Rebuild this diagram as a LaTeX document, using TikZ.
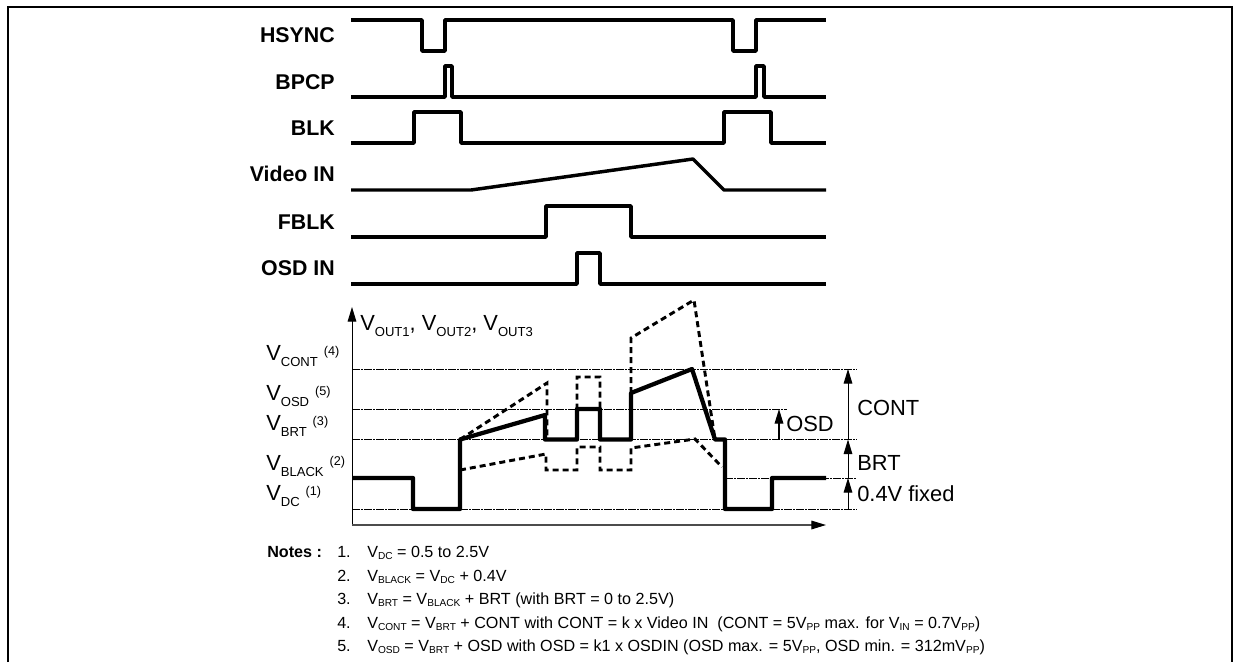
\documentclass[tikz,border=0pt]{standalone}
\usepackage{fontspec}
\setmainfont{Liberation Sans}
\usetikzlibrary{arrows.meta}
\newcommand{\vsub}[1]{V\raisebox{-4.5pt}{\fontsize{9.8}{12}\selectfont #1}}
\newcommand{\vnote}[1]{V\raisebox{-2pt}{\fontsize{7.6}{9}\selectfont #1}}
\newcommand{\refmark}[1]{\hspace{4.5pt}\raisebox{3.2pt}{\fontsize{9.5}{11}\selectfont (#1)}}
\begin{document}
\begin{tikzpicture}[x=0.75pt, y=-0.75pt, font=\fontsize{16.4}{18}\selectfont,
                sig label/.style={font=\fontsize{16}{18}\selectfont\bfseries, anchor=base east, inner sep=0pt},
                sig line/.style={line width=2.6pt, line join=round},
                out line/.style={line width=3.2pt, line join=round},
                var line/.style={line width=2.2pt, dash pattern=on 4.5pt off 3pt},
                level line/.style={line width=0.6pt, dash pattern=on 6pt off 1pt on 1pt off 1pt},
                dim arrow/.style={line width=0.7pt, -{Triangle[length=11pt, width=6.5pt, black]}},
                level label/.style={anchor=base west, inner sep=0pt},
                note/.style={font=\fontsize{12.1}{14}\selectfont, anchor=base west, inner sep=0pt}]

                \useasboundingbox (0,0) rectangle (1233,662);

                % Page frame, open at the bottom
                \draw[line width=1.5pt] (8,662) -- (8,7) -- (1232,7) -- (1232,662);

                % Input signals
                \node[sig label] (hsync) at (335,42) {HSYNC};
                \node[sig label] (bpcp) at (335,89.5) {BPCP};
                \node[sig label] (blk) at (335,135.5) {BLK};
                \node[sig label] (video) at (335,181.5) {Video IN};
                \node[sig label] (fblk) at (335,229) {FBLK};
                \node[sig label] (osdin) at (335,275.5) {OSD IN};

                \draw[sig line] (351,20) -- (422,20) -- (422,51) -- (445,51) -- (445,20) -- (733,20) -- (733,51) -- (756,51) -- (756,20) -- (826,20);
                \draw[sig line] (351,97) -- (445,97) -- (445,66) -- (452,66) -- (452,97) -- (756,97) -- (756,66) -- (764,66) -- (764,97) -- (826,97);
                \draw[sig line] (351,143) -- (414,143) -- (414,112) -- (461,112) -- (461,143) -- (724,143) -- (724,112) -- (771,112) -- (771,143) -- (826,143);
                \draw[sig line] (351,190) -- (471,190) -- (693,159) -- (724,190) -- (826,190);
                \draw[sig line] (351,237) -- (546,237) -- (546,206) -- (631,206) -- (631,237) -- (826,237);
                \draw[sig line] (351,284) -- (577,284) -- (577,253) -- (600,253) -- (600,284) -- (826,284);

                % Levels of the output
                \coordinate (contL) at (352,369);
                \coordinate (contR) at (857,369);
                \coordinate (osdL) at (352,409);
                \coordinate (osdR) at (787,409);
                \coordinate (brtL) at (352,439.5);
                \coordinate (brtR) at (857,439.5);
                \coordinate (blackL) at (725,478);
                \coordinate (blackR) at (857,478);
                \coordinate (dcL) at (352,509);
                \coordinate (dcR) at (857,509);
                \draw[level line] (contL) -- (contR);
                \draw[level line] (osdL) -- (osdR);
                \draw[level line] (brtL) -- (brtR);
                \draw[level line] (blackL) -- (blackR);
                \draw[level line] (dcL) -- (dcR);

                % Axes
                \coordinate (origin) at (352,525);
                \coordinate (ytip) at (352,307);
                \coordinate (xtip) at (826,525);
                \draw[dim arrow] (origin) -- (ytip);
                \draw[dim arrow, line width=0.9pt, draw=black!70] (origin) -- (xtip);

                % Output waveform with its two variations
                \draw[var line] (460,439.5) -- (547,383) -- (547,439.5) (577,439.5) -- (577,377) -- (600,377) -- (600,439.5) (631,393) -- (631,338) -- (694,300) -- (715,439.5);
                \draw[var line] (460,470) -- (546,454) -- (546,470) -- (577,470) -- (577,447) -- (600,447) -- (600,470) -- (631,470) -- (631,448) -- (695,439) -- (722,467);
                \draw[out line] (352,478) -- (413,478) -- (413,509) -- (460,509) -- (460,439.5) -- (545,415) -- (545,439.5) -- (577,439.5) -- (577,409) -- (600,409) -- (600,439.5) -- (631,439.5) -- (631,393) -- (692,369) -- (715,439.5) -- (725,439.5) -- (725,509) -- (772,509) -- (772,478) -- (826,478);

                % Level names
                \node[level label] (vout) at (360,330) {\vsub{OUT1}, \vsub{OUT2}, \vsub{OUT3}};
                \node[level label] (vcont) at (266,360) {\vsub{CONT}\refmark{4}};
                \node[level label] (vosd) at (266,400) {\vsub{OSD}\refmark{5}};
                \node[level label] (vbrt) at (266,430) {\vsub{BRT}\refmark{3}};
                \node[level label] (vblack) at (266,470) {\vsub{BLACK}\refmark{2}};
                \node[level label] (vdc) at (266,500) {\vsub{DC}\refmark{1}};

                % Dimensions
                \coordinate (contTop) at (848,369);
                \coordinate (contBot) at (848,439.5);
                \coordinate (brtBot) at (848,478);
                \coordinate (fixBot) at (848,509);
                \coordinate (osdTop) at (779,409);
                \coordinate (osdBot) at (779,439.5);
                \draw[dim arrow] (contBot) -- (contTop);
                \draw[dim arrow] (brtBot) -- (contBot);
                \draw[dim arrow] (fixBot) -- (brtBot);
                \draw[dim arrow, line width=1pt] (osdBot) -- (osdTop);
                \node[level label] (cont) at (857,415) {CONT};
                \node[level label] (osd) at (786,431) {OSD};
                \node[level label] (brt) at (857,470) {BRT};
                \node[level label] (fixed) at (857,501) {0.4V fixed};

                % Notes
                \node[note, font=\fontsize{12.1}{14}\selectfont\bfseries] (notes) at (267,557) {Notes :};
                \node[note] (n1) at (337,557) {1.};
                \node[note] (n2) at (337,581) {2.};
                \node[note] (n3) at (337,604) {3.};
                \node[note] (n4) at (337,628) {4.};
                \node[note] (n5) at (337,651) {5.};
                \node[note] (t1) at (367,557) {\vnote{DC} = 0.5 to 2.5V};
                \node[note] (t2) at (367,581) {\vnote{BLACK} = \vnote{DC} + 0.4V};
                \node[note] (t3) at (367,604) {\vnote{BRT} = \vnote{BLACK} + BRT (with BRT = 0 to 2.5V)};
                \node[note] (t4) at (367,628) {\vnote{CONT} = \vnote{BRT} + CONT with CONT = k x Video IN\ \ (CONT = 5\vnote{PP} max. for \vnote{IN} = 0.7\vnote{PP})};
                \node[note] (t5) at (367,651) {\vnote{OSD} = \vnote{BRT} + OSD with OSD = k1 x OSDIN (OSD max. = 5\vnote{PP}, OSD min. = 312m\vnote{PP})};
            \end{tikzpicture}
\end{document}
